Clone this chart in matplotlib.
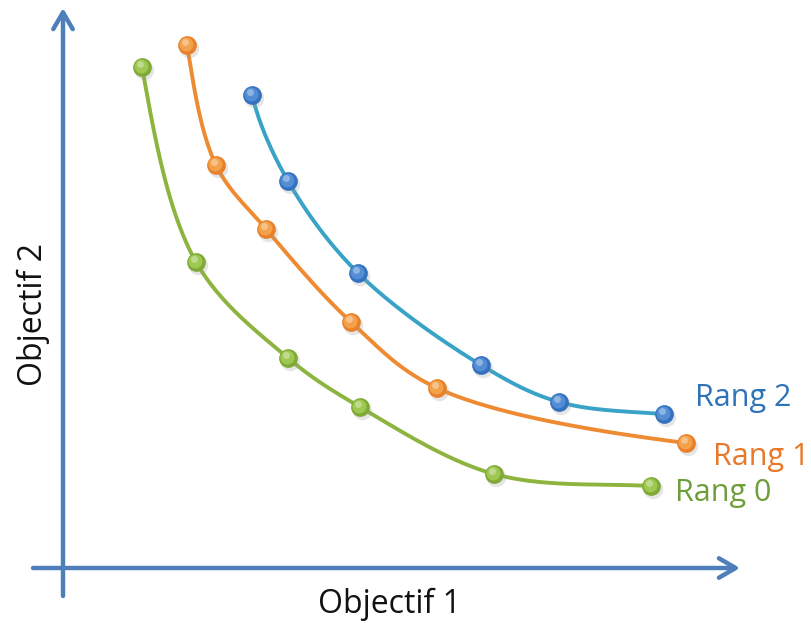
import numpy as np
import matplotlib
matplotlib.use("Agg")
import matplotlib.pyplot as plt
from matplotlib.patches import FancyArrowPatch

# Data (Objectif 1, Objectif 2) for each rank
rang0_x = [79, 133, 225, 297, 431, 588]
rang0_y = [501, 306, 210, 161, 94, 82]
rang1_x = [124, 153, 203, 288, 374, 623]
rang1_y = [523, 403, 339, 246, 180, 125]
rang2_x = [189, 225, 295, 418, 496, 601]
rang2_y = [473, 387, 295, 203, 166, 154]
labels = ["Rang 0", "Rang 1", "Rang 2"]


def catmull_rom(xs, ys, n=60, alpha=0.5):
    P = np.column_stack([xs, ys]).astype(float)
    d0 = np.linalg.norm(P[1] - P[0])
    d1 = np.linalg.norm(P[-1] - P[-2])
    start = P[0] + np.array([-0.08 * d0, 0.9 * d0])   # near-vertical start tangent
    end = P[-1] + np.array([0.9 * d1, -0.03 * d1])     # near-flat end tangent
    P = np.vstack([start, P, end])
    out = []
    for i in range(1, len(P) - 2):
        p0, p1, p2, p3 = P[i - 1], P[i], P[i + 1], P[i + 2]
        t0 = 0.0
        t1 = t0 + np.linalg.norm(p1 - p0) ** alpha
        t2 = t1 + np.linalg.norm(p2 - p1) ** alpha
        t3 = t2 + np.linalg.norm(p3 - p2) ** alpha
        t = np.linspace(t1, t2, n)[:, None]
        A1 = (t1 - t) / (t1 - t0) * p0 + (t - t0) / (t1 - t0) * p1
        A2 = (t2 - t) / (t2 - t1) * p1 + (t - t1) / (t2 - t1) * p2
        A3 = (t3 - t) / (t3 - t2) * p2 + (t - t2) / (t3 - t2) * p3
        B1 = (t2 - t) / (t2 - t0) * A1 + (t - t0) / (t2 - t0) * A2
        B2 = (t3 - t) / (t3 - t1) * A2 + (t - t1) / (t3 - t1) * A3
        C = (t2 - t) / (t2 - t1) * B1 + (t - t1) / (t2 - t1) * B2
        out.append(C)
    c = np.vstack(out)
    return c[:, 0], c[:, 1]


fig = plt.figure(figsize=(8.12, 6.23), dpi=100)
ax = fig.add_axes([0, 0, 1, 1])
ax.set_xlim(-63, 749)
ax.set_ylim(-55, 568)
ax.axis("off")

axis_color = "#4F7FBA"
ax.add_patch(FancyArrowPatch((-30, 0), (677, 0), arrowstyle="->,head_length=12,head_width=7",
                             color=axis_color, lw=3.2, mutation_scale=1, shrinkA=0, shrinkB=0))
ax.add_patch(FancyArrowPatch((0, -28), (0, 560), arrowstyle="->,head_length=12,head_width=7",
                             color=axis_color, lw=3.2, mutation_scale=1, shrinkA=0, shrinkB=0))

series = [
    (rang0_x, rang0_y, "#8CB43E", "#7FAA36", "#A8D05A", "#6E9E3A", (612, 75)),
    (rang1_x, rang1_y, "#EE8B32", "#E8812A", "#F8AA55", "#E8782A", (650, 111)),
    (rang2_x, rang2_y, "#38A3C6", "#3472C0", "#5B96DA", "#2E72B8", (632, 170)),
]

for (xs, ys, lc, mc, hc, tc, tpos), lab in zip(series, labels):
    sx, sy = catmull_rom(xs, ys)
    xs = np.array(xs); ys = np.array(ys)
    ax.plot(sx, sy, color=lc, lw=2.8, solid_capstyle="round", zorder=2)
    ax.plot(xs + 2, ys - 3, "o", ms=14, color="#999999", alpha=0.25, mec="none", zorder=2.5)
    ax.plot(xs, ys, "o", ms=13.5, color=mc, mec="none", zorder=3)
    ax.plot(xs - 1, ys + 1.5, "o", ms=10, color=hc, alpha=0.8, mec="none", zorder=3.1)
    ax.plot(xs - 2, ys + 3, "o", ms=5, color="white", alpha=0.35, mec="none", zorder=3.2)
    ax.text(tpos[0], tpos[1], lab, color=tc, fontsize=22, family="Open Sans",
            ha="left", va="center", zorder=5)

ax.text(327, -36, "Objectif 1", fontsize=23, family="Open Sans", ha="center", va="center",
        color="#111111")
ax.text(-30, 253, "Objectif 2", fontsize=23, family="Open Sans", ha="center", va="center",
        rotation=90, color="#111111")

fig.savefig("out.png", dpi=100)
